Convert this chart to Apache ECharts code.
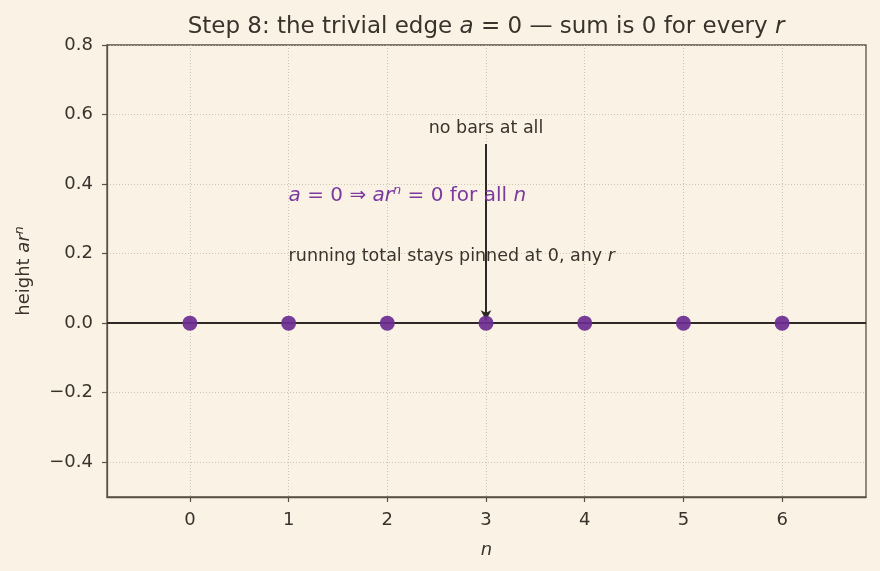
<!DOCTYPE html>
<html>
<head>
<meta charset="utf-8">
<script src="https://cdn.jsdelivr.net/npm/echarts@6/dist/echarts.min.js"></script>
<style>
  html, body { margin: 0; padding: 0; background: #faf2e4; }
  #chart { width: 880px; height: 571px; }
</style>
</head>
<body>
<div id="chart"></div>
<script>
// data
const nValues = [0, 1, 2, 3, 4, 5, 6];
const heights = [0, 0, 0, 0, 0, 0, 0];
const xTicks = [0, 1, 2, 3, 4, 5, 6];
const yTicks = [-0.4, -0.2, 0.0, 0.2, 0.4, 0.6, 0.8];
const xRange = [-0.84, 6.85];
const yRange = [-0.5, 0.8];

const ink = '#3a332c';
const frame = '#5a5045';
const purple = '#6a2c91';
const notePurple = '#7a3a9e';
const font = 'DejaVu Sans';

const fmtY = v => (v < 0 ? '\u2212' : '') + Math.abs(v).toFixed(1);

const chart = echarts.init(document.getElementById('chart'));
const option = {
  backgroundColor: '#faf2e4',
  textStyle: { fontFamily: font, color: ink },
  title: {
    text: '{n|Step 8: the trivial edge }{i|a}{n| = 0 \u2014 sum is 0 for every }{i|r}',
    left: 481, top: 11, textAlign: 'center',
    textStyle: {
      fontWeight: 'normal',
      rich: {
        n: { fontFamily: font, fontSize: 23, fontWeight: 'normal', color: ink },
        i: { fontFamily: font, fontSize: 23, fontWeight: 'normal', color: ink, fontStyle: 'italic' }
      }
    }
  },
  grid: {
    left: 107, right: 14, top: 45, bottom: 74,
    containLabel: false, outerBoundsMode: 'none',
    show: true, borderColor: frame, borderWidth: 1.3, backgroundColor: 'transparent'
  },
  xAxis: {
    type: 'value', min: xRange[0], max: xRange[1],
    name: 'n', nameLocation: 'middle', nameGap: 44,
    nameTextStyle: { fontFamily: font, fontSize: 18, fontStyle: 'italic', color: ink },
    axisLine: { show: true, onZero: false, lineStyle: { color: frame, width: 1.3 } },
    axisTick: { show: true, customValues: xTicks, length: 5, lineStyle: { color: frame, width: 1.2 } },
    axisLabel: { customValues: xTicks, fontFamily: font, fontSize: 18, color: ink, margin: 14 },
    splitLine: { show: true, lineStyle: { color: '#c2b9aa', type: [1, 2], width: 0.8 } }
  },
  yAxis: {
    type: 'value', min: yRange[0], max: yRange[1],
    name: '{n|height }{i|ar}{s|n}', nameLocation: 'middle', nameGap: 72,
    nameTextStyle: {
      rich: {
        n: { fontFamily: font, fontSize: 18, color: ink },
        i: { fontFamily: font, fontSize: 18, color: ink, fontStyle: 'italic' },
        s: { fontFamily: font, fontSize: 12.5, color: ink, fontStyle: 'italic', verticalAlign: 'top', padding: [0, 0, 9, 0] }
      }
    },
    axisLine: { show: true, onZero: false, lineStyle: { color: frame, width: 1.3 } },
    axisTick: { show: true, customValues: yTicks, length: 5, lineStyle: { color: frame, width: 1.2 } },
    axisLabel: { customValues: yTicks, formatter: fmtY, fontFamily: font, fontSize: 18, color: ink, margin: 14 },
    splitLine: { show: true, lineStyle: { color: '#c2b9aa', type: [1, 2], width: 0.8 } }
  },
  series: [
    {
      type: 'scatter',
      data: nValues.map((n, i) => [n, heights[i]]),
      symbolSize: 15,
      itemStyle: { color: purple, opacity: 0.92 },
      z: 5,
      markLine: {
        silent: true, symbol: ['none', 'none'], animation: false,
        label: { show: false },
        lineStyle: { color: '#2e2924', width: 2, type: 'solid' },
        data: [{ yAxis: 0 }]
      }
    },
    {
      type: 'line',
      data: [],
      markLine: {
        silent: true, animation: false,
        symbol: ['none', 'arrow'], symbolSize: [8, 10],
        label: { show: false },
        lineStyle: { color: '#2e2924', width: 2, type: 'solid' },
        data: [[{ coord: [3, 0.515] }, { coord: [3, 0.008] }]]
      }
    },
    {
      type: 'scatter',
      symbolSize: 0,
      silent: true,
      z: 6,
      itemStyle: { opacity: 1 },
      data: [
        {
          value: [3, 0.56],
          label: { formatter: '{n|no bars at all}', align: 'center',
            rich: { n: { fontFamily: font, fontSize: 17.5, color: ink } } }
        },
        {
          value: [1, 0.366],
          label: {
            align: 'left',
            formatter: '{i|a}{n| = 0 \u21d2 }{i|ar}{s|n}{n| = 0 for all }{i|n}',
            rich: {
              n: { fontFamily: font, fontSize: 20, color: notePurple },
              i: { fontFamily: font, fontSize: 20, color: notePurple, fontStyle: 'italic' },
              s: { fontFamily: font, fontSize: 13, color: notePurple, fontStyle: 'italic', verticalAlign: 'top', padding: [0, 0, 11, 0] }
            }
          }
        },
        {
          value: [1, 0.192],
          label: {
            align: 'left',
            formatter: '{n|running total stays pinned at 0, any }{i|r}',
            rich: {
              n: { fontFamily: font, fontSize: 17.5, color: ink },
              i: { fontFamily: font, fontSize: 17.5, color: ink, fontStyle: 'italic' }
            }
          }
        }
      ],
      label: { show: true, position: 'inside', opacity: 1, fontFamily: font, verticalAlign: 'middle' }
    }
  ]
};
chart.setOption(option);
</script>
</body>
</html>
